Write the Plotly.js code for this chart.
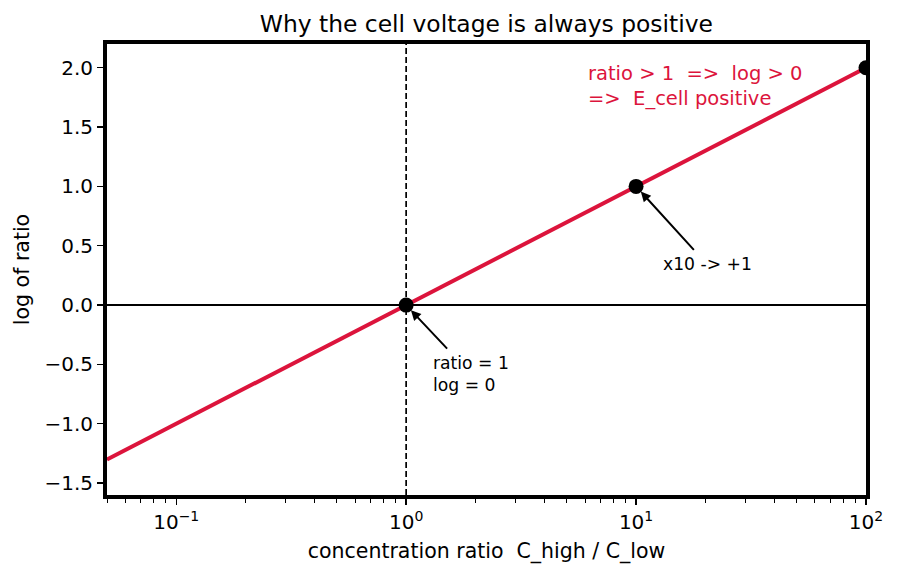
<!DOCTYPE html>
<html>
<head>
<meta charset="utf-8">
<script src="https://cdn.plot.ly/plotly-3.0.1.min.js"></script>
<style>
  html, body { margin: 0; padding: 0; background: #fff; }
  #chart { width: 899px; height: 578px; }
</style>
</head>
<body>
<div id="chart"></div>
<script>
// log10 of the concentration ratio across the plotted span
const lineRatio = [0.05, 100];
const lineLog = [-1.301, 2];

// highlighted decades
const pointRatio = [1, 10, 100];
const pointLog = [0, 1, 2];

// x-axis ticks
const xTickVals = [0.1, 1, 10, 100];
const xTickText = ['10<sup>−1</sup>', '10<sup>0</sup>', '10<sup>1</sup>', '10<sup>2</sup>'];
const xMinorVals = [0.05, 0.06, 0.07, 0.08, 0.09,
  0.2, 0.3, 0.4, 0.5, 0.6, 0.7, 0.8, 0.9,
  2, 3, 4, 5, 6, 7, 8, 9,
  20, 30, 40, 50, 60, 70, 80, 90];

// y-axis ticks
const yTickVals = [-1.5, -1.0, -0.5, 0.0, 0.5, 1.0, 1.5, 2.0];
const yTickText = ['−1.5', '−1.0', '−0.5', '0.0', '0.5', '1.0', '1.5', '2.0'];

const crimson = '#DC143C';
const font = 'DejaVu Sans, sans-serif';
const sp = '\u00a0';

const traces = [
  {
    x: lineRatio, y: lineLog, type: 'scatter', mode: 'lines',
    line: { color: crimson, width: 4 }, hoverinfo: 'skip'
  },
  {
    x: pointRatio, y: pointLog, type: 'scatter', mode: 'markers',
    marker: { color: 'black', size: 15 }, hoverinfo: 'skip'
  }
];

const layout = {
  width: 899, height: 578,
  margin: { l: 107, r: 33, t: 44, b: 83 },
  paper_bgcolor: '#fff', plot_bgcolor: '#fff',
  showlegend: false,
  font: { family: font, color: 'black', size: 20 },
  title: {
    text: 'Why the cell voltage is always positive',
    font: { family: font, size: 23.4, color: 'black' },
    x: 0.541, xanchor: 'center', y: 0.958, yanchor: 'middle'
  },
  xaxis: {
    type: 'log', range: [Math.log10(0.05), 2],
    tickmode: 'array', tickvals: xTickVals, ticktext: xTickText,
    ticks: 'outside', ticklen: 6, tickwidth: 1.3, tickcolor: 'black',
    minor: { tickmode: 'array', tickvals: xMinorVals, ticks: 'outside', ticklen: 3.5, tickwidth: 1, tickcolor: 'black' },
    showgrid: false, zeroline: false,
    showline: true, linewidth: 4, linecolor: 'black', mirror: true,
    tickfont: { family: font, size: 20 },
    title: { text: 'concentration ratio' + sp + ' C_high / C_low', font: { family: font, size: 20.5 }, standoff: 12 }
  },
  yaxis: {
    range: [-1.6, 2.2],
    tickmode: 'array', tickvals: yTickVals, ticktext: yTickText,
    ticks: 'outside', ticklen: 6, tickwidth: 1.3, tickcolor: 'black',
    showgrid: false, zeroline: false,
    showline: true, linewidth: 4, linecolor: 'black', mirror: true,
    tickfont: { family: font, size: 20 },
    title: { text: 'log of ratio', font: { family: font, size: 20.5 }, standoff: 10 }
  },
  shapes: [
    // y = 0 reference line across the whole plot
    { type: 'line', xref: 'paper', x0: 0, x1: 1, yref: 'y', y0: 0, y1: 0,
      line: { color: 'black', width: 2 }, layer: 'below' },
    // ratio = 1 marker line (shape x uses raw data values on a log axis)
    { type: 'line', xref: 'x', x0: pointRatio[0], x1: pointRatio[0], yref: 'paper', y0: 0, y1: 1,
      line: { color: 'black', width: 1.7, dash: '6px,3px' }, layer: 'below' }
  ],
  annotations: [
    { x: Math.log10(pointRatio[0]), y: pointLog[0], xref: 'x', yref: 'y', ax: 65, ay: 69,
      text: 'ratio = 1<br>log = 0', align: 'left', borderpad: 4,
      font: { family: font, size: 17.2, color: 'black' },
      showarrow: true, arrowhead: 2, arrowsize: 1, arrowwidth: 2, arrowcolor: 'black', standoff: 7 },
    { x: Math.log10(pointRatio[1]), y: pointLog[1], xref: 'x', yref: 'y', ax: 71, ay: 78,
      text: 'x10 -> +1', align: 'left', borderpad: 4,
      font: { family: font, size: 17.2, color: 'black' },
      showarrow: true, arrowhead: 2, arrowsize: 1, arrowwidth: 2, arrowcolor: 'black', standoff: 7 },
    { x: 0.783, y: 1.845, xref: 'x', yref: 'y', xanchor: 'left', yanchor: 'middle', align: 'left',
      text: 'ratio > 1' + sp + ' =>' + sp + ' log > 0<br>=>' + sp + ' E_cell positive', showarrow: false,
      font: { family: font, size: 19.5, color: crimson } }
  ]
};

Plotly.newPlot('chart', traces, layout, { staticPlot: true, displayModeBar: false });
</script>
</body>
</html>
